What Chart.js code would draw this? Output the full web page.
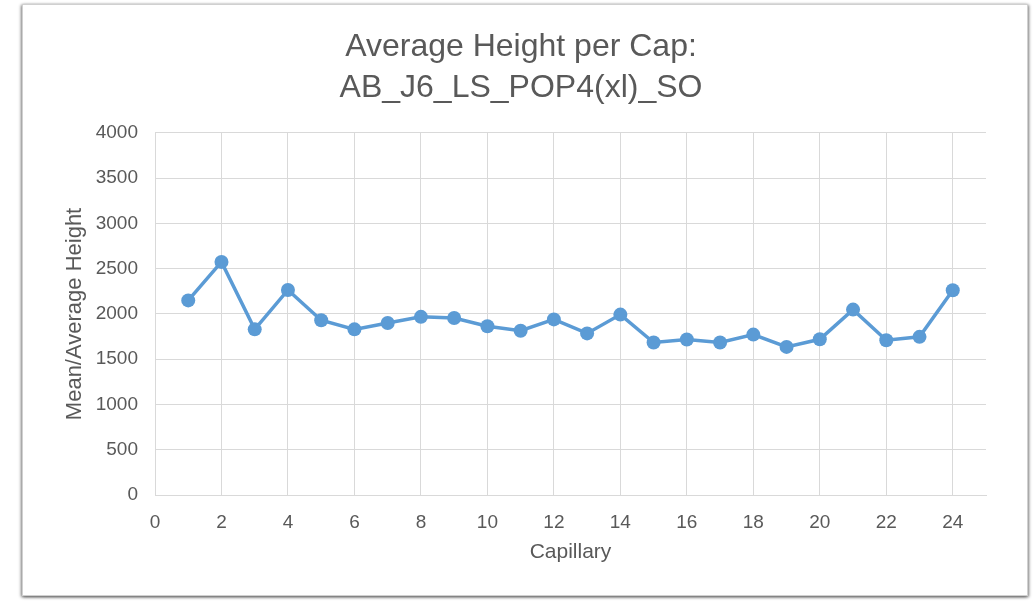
<!DOCTYPE html>
<html>
<head>
<meta charset="utf-8">
<script src="https://cdn.jsdelivr.net/npm/chart.js@4/dist/chart.umd.min.js"></script>
<style>
  html, body { margin: 0; padding: 0; background: #fff; }
  #frame {
    position: absolute; left: 22px; top: 4px; width: 1006px; height: 592px;
    border: 1px solid #d0d0d0; box-sizing: border-box;
    box-shadow: -1px 1px 3px rgba(0,0,0,0.45), 1px 1px 3px rgba(0,0,0,0.45);
    background: #fff;
  }
  canvas { display: block; }
</style>
</head>
<body>
<div id="frame"><canvas id="chart"></canvas></div>
<script>
// capillary number and mean height
const capillaries = [1, 2, 3, 4, 5, 6, 7, 8, 9, 10, 11, 12, 13, 14, 15, 16, 17, 18, 19, 20, 21, 22, 23, 24];
const meanHeights = [2150, 2575, 1830, 2265, 1930, 1830, 1900, 1968, 1955, 1865, 1815, 1940, 1785, 1993, 1685, 1718, 1685, 1772, 1636, 1720, 2048, 1710, 1747, 2262];
const xTicks = [0, 2, 4, 6, 8, 10, 12, 14, 16, 18, 20, 22, 24];
const titleLines = ['Average Height per Cap:', 'AB_J6_LS_POP4(xl)_SO'];

const grey = '#595959';
const gridGrey = '#d9d9d9';
const fontFamily = "'Liberation Sans', Arial, sans-serif";

const points = capillaries.map((c, i) => ({ x: c, y: meanHeights[i] }));

new Chart(document.getElementById('chart').getContext('2d'), {
    type: 'line',
    data: {
        datasets: [{
            label: 'Mean/Average Height',
            data: points,
            borderColor: '#5B9BD5',
            backgroundColor: '#5B9BD5',
            borderWidth: 3.5,
            pointRadius: 7,
            pointBorderWidth: 0,
            tension: 0
        }]
    },
    options: {
        responsive: true,
        maintainAspectRatio: false,
        animation: false,
        layout: { padding: { left: 33, right: 41, top: 0, bottom: 30 } },
        plugins: {
            legend: { display: false },
            tooltip: { enabled: false },
            title: {
                display: true,
                text: titleLines,
                color: grey,
                font: { family: fontFamily, size: 32, weight: 'normal', lineHeight: 1.28 },
                padding: { top: 22, bottom: 24 }
            }
        },
        scales: {
            x: {
                type: 'linear',
                min: 0,
                max: 25,
                afterBuildTicks: (scale) => {
                    scale.ticks = xTicks.map(v => ({ value: v }));
                },
                afterFit: (scale) => { scale.height = 70; },
                ticks: { autoSkip: false, color: grey, font: { family: fontFamily, size: 19 }, padding: 16, maxRotation: 0 },
                grid: { color: gridGrey, lineWidth: 1, drawTicks: false },
                border: { color: gridGrey },
                title: { display: true, text: 'Capillary', color: grey, font: { family: fontFamily, size: 21 }, padding: { top: 0, bottom: 0 } }
            },
            y: {
                min: 0,
                max: 4000,
                afterFit: (scale) => { scale.width = 99; },
                ticks: { stepSize: 500, color: grey, font: { family: fontFamily, size: 19 }, padding: 17, callback: (v) => String(v) },
                grid: { color: gridGrey, lineWidth: 1, drawTicks: false },
                border: { color: gridGrey },
                title: { display: true, text: 'Mean/Average Height', color: grey, font: { family: fontFamily, size: 22 }, padding: { top: 6, bottom: 0 } }
            }
        }
    }
});
</script>
</body>
</html>
